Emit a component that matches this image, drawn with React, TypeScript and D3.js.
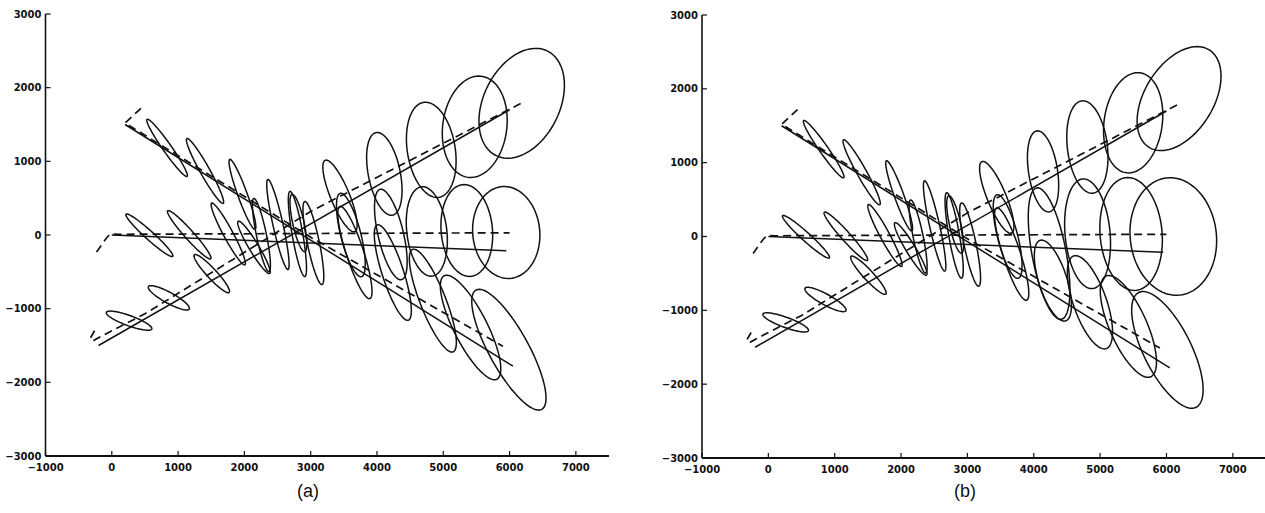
import React from "react";
import * as d3 from "d3";

// ---- axis data ----
const xTicks = [-1000, 0, 1000, 2000, 3000, 4000, 5000, 6000, 7000];
const yTicks = [-3000, -2000, -1000, 0, 1000, 2000, 3000];
const xDomain = [-1000, 7500];
const yDomain = [-3000, 3000];
const panelLabels = ["(a)", "(b)"];

// ---- true tracks (solid) ----
const truthUp = [[-200, -1500], [6000, 1700]];
const truthLevel = [[0, 0], [5950, -215]];
const truthDown = [[200, 1500], [6050, -1780]];

// ---- estimated tracks (dashed) ----
const estUp = [[-260, -1300], [-330, -1410], [-270, -1430], [-150, -1370], [500, -1070], [3000, 320], [6200, 1800]];
const estLevel = [[-230, -230], [-80, -40], [-20, 15], [100, 10], [6000, 30]];
const estDown = [[440, 1720], [200, 1520], [3000, -30], [5900, -1510]];

// ---- covariance ellipses: [cx, cy, semi-axis a, semi-axis b, angle deg] ----
// shared early part (both panels)
const ellipsesEarly = [
  // rising target
  [261, -1163, 361, 70, -18],
  [861, -853, 344, 75, -26],
  [1508, -524, 366, 70, -44],
  [2145, -168, 427, 70, -56],
  [2815, 163, 400, 85, -76],
  [3442, 530, 533, 140, -65],
  // level target
  [567, -4, 454, 60, -39],
  [1168, 3, 460, 65, -45],
  [1757, 14, 488, 70, -59],
  [2257, 0, 509, 75, -77],
  [2800, 14, 589, 80, -79],
  [3606, 0, 588, 150, -74],
  // falling target
  [834, 1183, 491, 63, -52],
  [1406, 870, 518, 70, -58],
  [1971, 551, 512, 70, -68],
  [2506, 143, 630, 75, -76],
  [3041, -109, 579, 90, -77],
  [3667, -238, 665, 130, -70],
];

// late part, panel (a)
const ellipsesLateA = [
  [4111, 830, 574, 240, -77],
  [4819, 1156, 655, 360, -79],
  [5475, 1469, 694, 482, 80],
  [6183, 1788, 811, 560, 57],
  [4209, 7, 634, 190, -75],
  [4752, 48, 612, 301, -82],
  [5355, 61, 626, 387, -84],
  [5950, 34, 626, 505, -82],
  [4239, -510, 688, 160, -70],
  [4843, -891, 760, 190, -66],
  [5412, -1255, 807, 245, -60],
  [5990, -1557, 950, 290, -58],
];

// late part, panel (b)
const ellipsesLateB = [
  [4140, 882, 556, 218, -80],
  [4808, 1212, 631, 301, -82],
  [5498, 1540, 685, 437, 80],
  [6190, 1868, 803, 500, 52],
  [4231, -231, 909, 256, -78],
  [4811, 37, 746, 339, -84],
  [5467, 34, 767, 467, -84],
  [6103, 0, 800, 648, -80],
  [4288, -597, 579, 210, -70],
  [4847, -891, 674, 246, -68],
  [5426, -1218, 761, 275, -63],
  [6014, -1536, 890, 350, -60],
];

function ellipsePoints(e: number[], n = 96): number[][] {
  const [cx, cy, a, b, deg] = e;
  const th = (deg * Math.PI) / 180;
  const pts: number[][] = [];
  for (let i = 0; i < n; i++) {
    const t = (i / n) * Math.PI * 2;
    const dx = a * Math.cos(t);
    const dy = b * Math.sin(t);
    pts.push([cx + dx * Math.cos(th) - dy * Math.sin(th), cy + dx * Math.sin(th) + dy * Math.cos(th)]);
  }
  return pts;
}

const fmt = (v: number) => (v < 0 ? "\u2212" + Math.abs(v) : String(v));

function Panel(props: {
  ellipses: number[][];
  x0: number;
  x1: number;
  yBottom: number;
  yTop: number;
  label: string;
  labelX: number;
}) {
  const { ellipses, x0, x1, yBottom, yTop, label, labelX } = props;
  const x = d3.scaleLinear().domain(xDomain).range([x0, x1]);
  const y = d3.scaleLinear().domain(yDomain).range([yBottom, yTop]);
  const line = d3
    .line<number[]>()
    .x((d) => x(d[0]))
    .y((d) => y(d[1]));
  const closed = d3
    .line<number[]>()
    .x((d) => x(d[0]))
    .y((d) => y(d[1]))
    .curve(d3.curveLinearClosed);
  const ink = "#111";
  return (
    <g>
      {ellipses.map((e, i) => (
        <path key={"e" + i} d={closed(ellipsePoints(e)) || ""} fill="none" stroke={ink} strokeWidth={1.5} />
      ))}
      {[truthUp, truthLevel, truthDown].map((l, i) => (
        <path key={"t" + i} d={line(l) || ""} fill="none" stroke={ink} strokeWidth={1.5} />
      ))}
      {[estUp, estLevel, estDown].map((l, i) => (
        <path
          key={"s" + i}
          d={line(l) || ""}
          fill="none"
          stroke={ink}
          strokeWidth={1.7}
          strokeDasharray="8,5"
        />
      ))}
      {/* axes */}
      <line x1={x0} y1={yTop} x2={x0} y2={yBottom} stroke={ink} strokeWidth={1.6} />
      <line x1={x0} y1={yBottom} x2={x1} y2={yBottom} stroke={ink} strokeWidth={1.8} />
      {yTicks.map((t) => (
        <g key={"yt" + t}>
          <line x1={x0} y1={y(t)} x2={x0 + 5} y2={y(t)} stroke={ink} strokeWidth={1.2} />
          <text
            x={x0 - 4}
            y={y(t) + 3.6}
            textAnchor="end"
            fontFamily="DejaVu Sans"
            fontWeight="bold"
            fontSize={10}
            fill={ink}
          >
            {fmt(t)}
          </text>
        </g>
      ))}
      {xTicks.map((t) => (
        <g key={"xt" + t}>
          <line x1={x(t)} y1={yBottom} x2={x(t)} y2={yBottom - 5} stroke={ink} strokeWidth={1.2} />
          <text
            x={x(t)}
            y={yBottom + 14.5}
            textAnchor="middle"
            fontFamily="DejaVu Sans"
            fontWeight="bold"
            fontSize={10}
            fill={ink}
          >
            {fmt(t)}
          </text>
        </g>
      ))}
      <text x={labelX} y={497} textAnchor="middle" fontFamily="Liberation Sans" fontSize={18} fill={ink}>
        {label}
      </text>
    </g>
  );
}

export default function App() {
  return (
    <svg
      width={1265}
      height={513}
      style={{ position: "absolute", left: 0, top: 0, background: "#fff" }}
      xmlns="http://www.w3.org/2000/svg"
    >
      <rect x={0} y={0} width={1265} height={513} fill="#fff" />
      <Panel
        ellipses={[...ellipsesEarly, ...ellipsesLateA]}
        x0={45.5}
        x1={609}
        yBottom={456}
        yTop={14}
        label={panelLabels[0]}
        labelX={308}
      />
      <Panel
        ellipses={[...ellipsesEarly, ...ellipsesLateB]}
        x0={702}
        x1={1266}
        yBottom={458}
        yTop={15}
        label={panelLabels[1]}
        labelX={965}
      />
    </svg>
  );
}
